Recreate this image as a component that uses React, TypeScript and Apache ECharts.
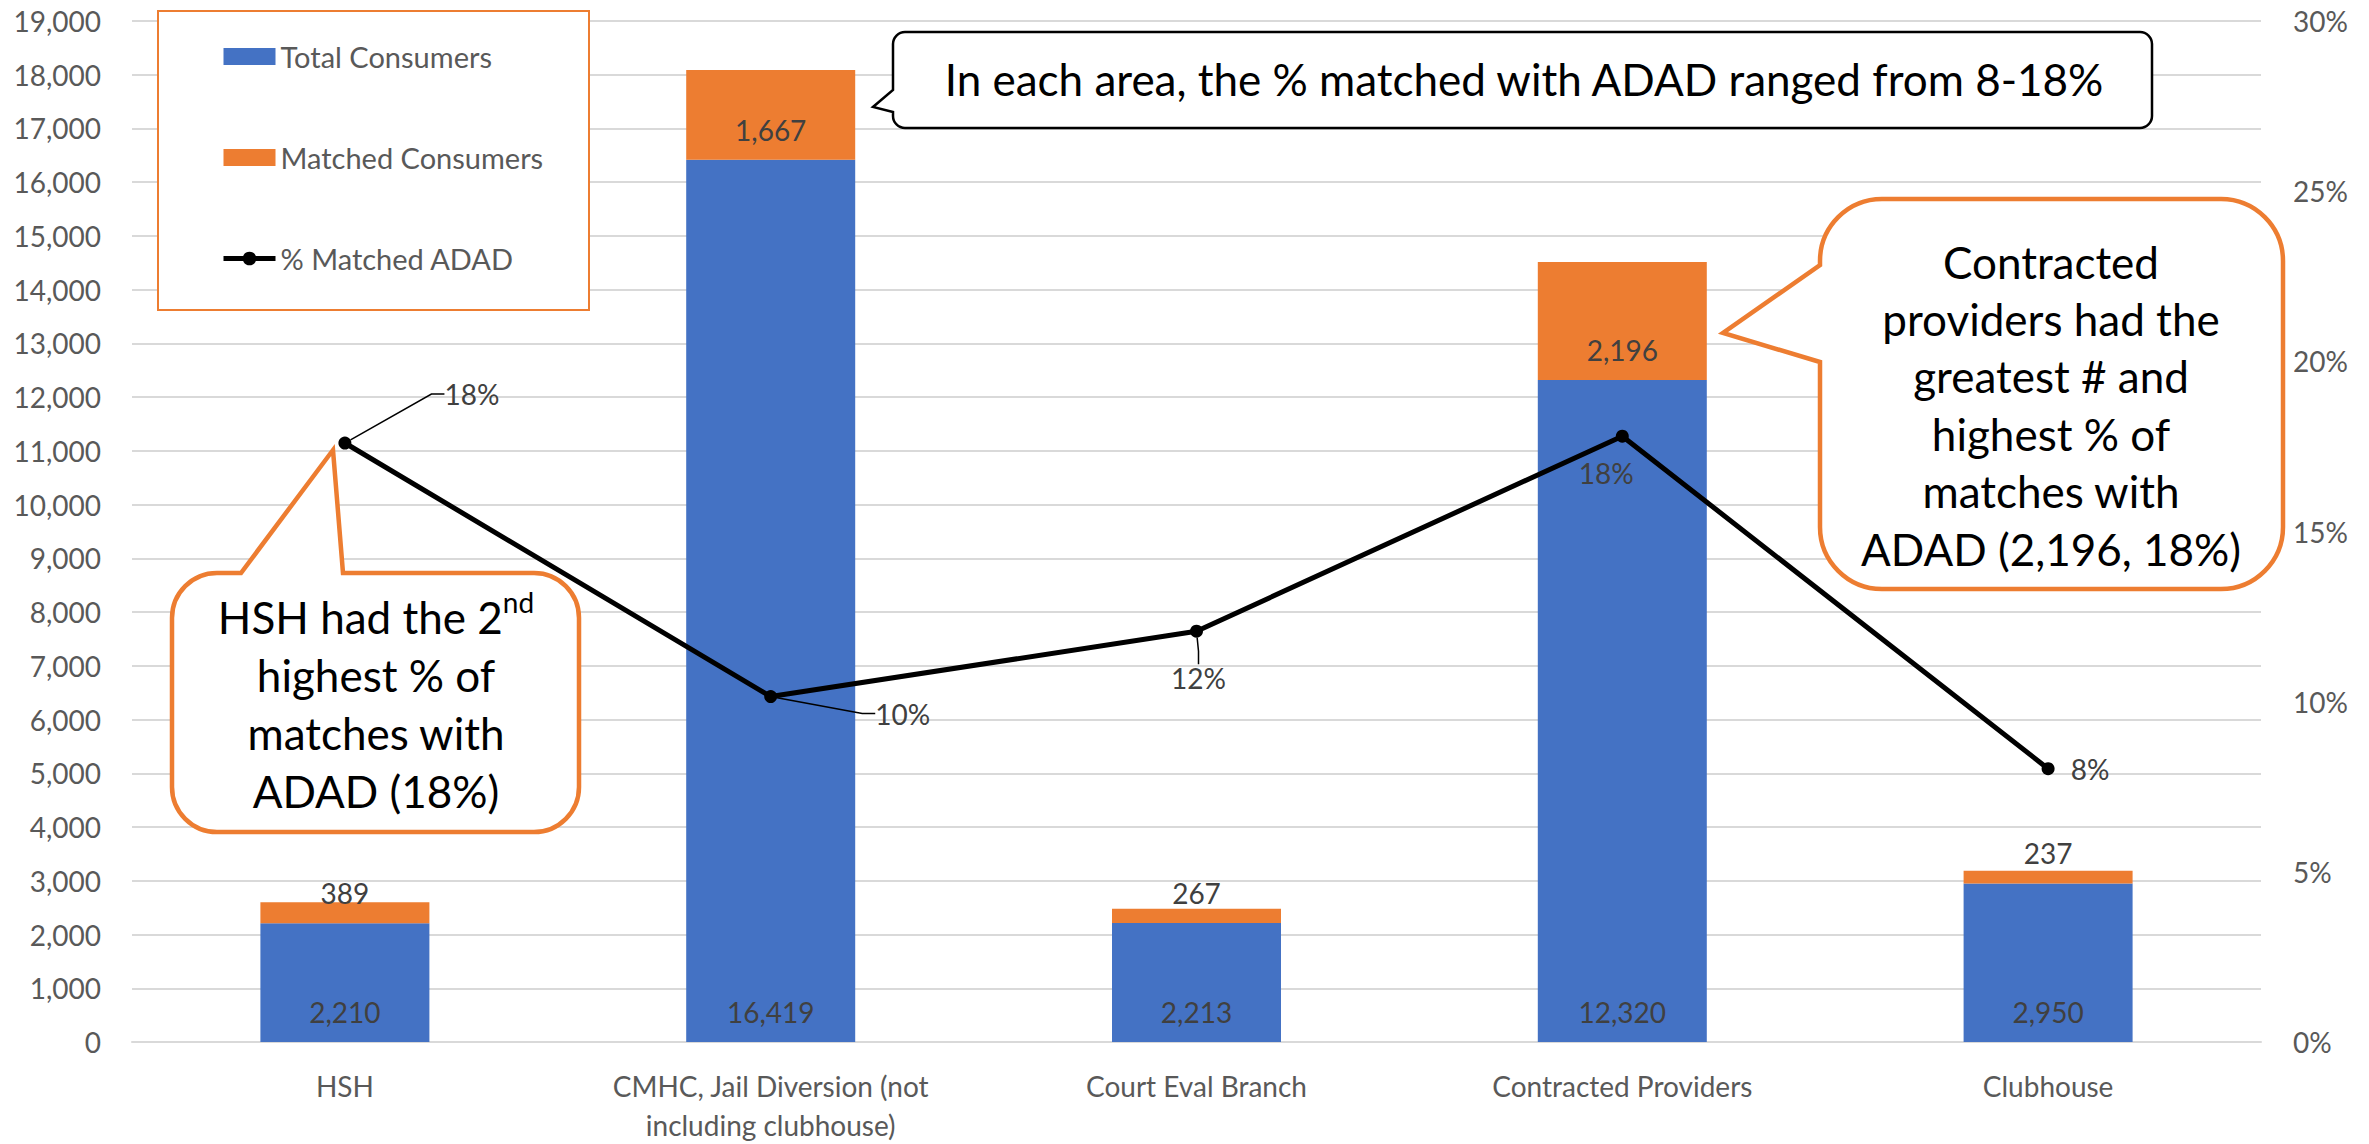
import React, { useEffect, useRef } from 'react';
import * as echarts from 'echarts';

// ---------- data ----------
const categories = [
  'HSH',
  'CMHC, Jail Diversion (not\nincluding clubhouse)',
  'Court Eval Branch',
  'Contracted Providers',
  'Clubhouse',
];
const totalConsumers = [2210, 16419, 2213, 12320, 2950];
const matchedConsumers = [389, 1667, 267, 2196, 237];
const pctMatchedADAD = [17.6, 10.15, 12.07, 17.8, 8.03];

const leftAxisMin = 0;
const leftAxisMax = 19000;
const leftAxisInterval = 1000;
const rightAxisMin = 0;
const rightAxisMax = 30;
const rightAxisInterval = 5;

const seriesNames = ['Total Consumers', 'Matched Consumers', '% Matched ADAD'];

const topNote = 'In each area, the % matched with ADAD ranged from 8-18%';
const hshNote = 'HSH had the 2{sup|nd}\nhighest % of\nmatches with\nADAD (18%)';
const contractedNote =
  'Contracted\nproviders had the\ngreatest # and\nhighest % of\nmatches with\nADAD (2,196, 18%)';

// ---------- styling ----------
const FONT = 'Lato, "Liberation Sans", sans-serif';
const BLUE = '#4472C4';
const ORANGE = '#ED7D31';
const GRID = '#d9d9d9';
const AXIS_TEXT = '#595959';
const LABEL_TEXT = '#404040';

type Ptr = { side: 'top' | 'left'; a: number; b: number; tx: number; ty: number };
function calloutPath(l: number, t: number, r: number, b: number, rad: number, p: Ptr) {
  const k = rad * 0.448;
  let d = `M ${l + rad} ${t}`;
  if (p.side === 'top') d += ` L ${p.a} ${t} L ${p.tx} ${p.ty} L ${p.b} ${t}`;
  d += ` L ${r - rad} ${t} C ${r - k} ${t} ${r} ${t + k} ${r} ${t + rad}`;
  d += ` L ${r} ${b - rad} C ${r} ${b - k} ${r - k} ${b} ${r - rad} ${b}`;
  d += ` L ${l + rad} ${b} C ${l + k} ${b} ${l} ${b - k} ${l} ${b - rad}`;
  if (p.side === 'left') d += ` L ${l} ${p.b} L ${p.tx} ${p.ty} L ${l} ${p.a}`;
  d += ` L ${l} ${t + rad} C ${l} ${t + k} ${l + k} ${t} ${l + rad} ${t} Z`;
  return d;
}

let registered = false;
function registerShapes() {
  if (registered) return;
  registered = true;
  echarts.graphic.registerShape(
    'calloutHSH',
    echarts.graphic.extendPath(
      calloutPath(172, 573, 579, 832, 45, { side: 'top', a: 241, b: 343, tx: 333, ty: 450 }),
      {}
    )
  );
  echarts.graphic.registerShape(
    'calloutContracted',
    echarts.graphic.extendPath(
      calloutPath(1820, 199, 2283, 589, 62, { side: 'left', a: 265, b: 362, tx: 1723, ty: 333 }),
      {}
    )
  );
  echarts.graphic.registerShape(
    'calloutTop',
    echarts.graphic.extendPath(
      calloutPath(893, 32, 2152, 128, 12, { side: 'left', a: 90, b: 112, tx: 873, ty: 107 }),
      {}
    )
  );
}

const fmt = (v: number) => Number(v).toLocaleString('en-US');

export default function App() {
  const ref = useRef<HTMLDivElement>(null);

  useEffect(() => {
    if (!ref.current) return;
    registerShapes();
    const chart = echarts.init(ref.current, undefined, { renderer: 'svg' });

    const pctLabelOffsets = [
      [127, -49],
      [132, 17],
      [2, 47],
      [-16, 37],
      [42, 0],
    ];
    const pctLabelLine = [true, true, true, false, false];

    const option: any = {
      animation: false,
      textStyle: { fontFamily: FONT },
      grid: { left: 132, right: 108, top: 21, bottom: 97, containLabel: false },
      legend: {
        orient: 'vertical',
        left: 216,
        top: 37,
        itemWidth: 52,
        itemHeight: 17,
        itemGap: 72,
        z: 6,
        lineStyle: { width: 5 },
        textStyle: { fontFamily: FONT, fontSize: 29, color: AXIS_TEXT, lineHeight: 29 },
        data: [
          { name: seriesNames[0], icon: 'rect' },
          { name: seriesNames[1], icon: 'rect' },
          { name: seriesNames[2] },
        ],
      },
      xAxis: {
        type: 'category',
        data: categories,
        axisTick: { show: false },
        axisLine: { lineStyle: { color: GRID, width: 2 } },
        axisLabel: {
          interval: 0,
          fontFamily: FONT,
          fontSize: 28,
          lineHeight: 39,
          color: AXIS_TEXT,
          margin: 24,
        },
      },
      yAxis: [
        {
          type: 'value',
          min: leftAxisMin,
          max: leftAxisMax,
          interval: leftAxisInterval,
          axisLine: { show: false },
          axisTick: { show: false },
          splitLine: { lineStyle: { color: GRID, width: 2 } },
          axisLabel: {
            fontFamily: FONT,
            fontSize: 28,
            color: AXIS_TEXT,
            margin: 31,
            formatter: (v: number) => fmt(v),
          },
        },
        {
          type: 'value',
          position: 'right',
          min: rightAxisMin,
          max: rightAxisMax,
          interval: rightAxisInterval,
          axisLine: { show: false },
          axisTick: { show: false },
          splitLine: { show: false },
          axisLabel: {
            fontFamily: FONT,
            fontSize: 28,
            color: AXIS_TEXT,
            margin: 32,
            formatter: (v: number) => `${v}%`,
          },
        },
      ],
      series: [
        {
          name: seriesNames[0],
          type: 'bar',
          stack: 'consumers',
          data: totalConsumers,
          barWidth: 169,
          itemStyle: { color: BLUE },
          label: {
            show: true,
            position: 'insideBottom',
            distance: 16,
            fontFamily: FONT,
            fontSize: 28,
            color: LABEL_TEXT,
            formatter: (p: any) => fmt(p.value),
          },
        },
        {
          name: seriesNames[1],
          type: 'bar',
          stack: 'consumers',
          data: matchedConsumers,
          barWidth: 169,
          itemStyle: { color: ORANGE },
          label: {
            show: true,
            position: 'insideBottom',
            distance: 16,
            fontFamily: FONT,
            fontSize: 28,
            color: LABEL_TEXT,
            formatter: (p: any) => fmt(p.value),
          },
        },
        {
          name: seriesNames[2],
          type: 'line',
          yAxisIndex: 1,
          z: 4,
          data: pctMatchedADAD.map((v, i) => ({
            value: v,
            labelLine: { show: pctLabelLine[i] },
          })),
          symbol: 'circle',
          symbolSize: 13,
          lineStyle: { color: '#000000', width: 5 },
          itemStyle: { color: '#000000' },
          label: {
            show: true,
            position: 'inside',
            fontFamily: FONT,
            fontSize: 28,
            color: LABEL_TEXT,
            formatter: (p: any) => `${Math.round(p.value)}%`,
          },
          labelLayout: (params: any) => ({
            dx: pctLabelOffsets[params.dataIndex][0],
            dy: pctLabelOffsets[params.dataIndex][1],
          }),
          labelLine: {
            show: true,
            length2: 13,
            lineStyle: { color: '#000000', width: 1.5 },
          },
        },
      ],
      graphic: [
        {
          type: 'rect',
          z: 3,
          shape: { x: 158, y: 11, width: 431, height: 299 },
          style: { fill: '#ffffff', stroke: ORANGE, lineWidth: 2 },
        },
        {
          type: 'calloutTop',
          x: 0,
          y: 0,
          z: 10,
          style: { fill: '#ffffff', stroke: '#000000', lineWidth: 2.5 },
        },
        {
          type: 'text',
          z: 11,
          x: 1524,
          y: 79,
          style: {
            text: topNote,
            fontFamily: FONT,
            fontSize: 44,
            fill: '#000000',
            align: 'center',
            verticalAlign: 'middle',
          },
        },
        {
          type: 'calloutHSH',
          x: 0,
          y: 0,
          z: 10,
          style: { fill: '#ffffff', stroke: ORANGE, lineWidth: 4.5 },
        },
        {
          type: 'text',
          z: 11,
          x: 376,
          y: 704,
          style: {
            text: hshNote,
            fontFamily: FONT,
            fontSize: 44,
            lineHeight: 58,
            fill: '#000000',
            align: 'center',
            verticalAlign: 'middle',
            rich: {
              sup: { fontFamily: FONT, fontSize: 28, lineHeight: 40, verticalAlign: 'top', fill: '#000000' },
            },
          },
        },
        {
          type: 'calloutContracted',
          x: 0,
          y: 0,
          z: 10,
          style: { fill: '#ffffff', stroke: ORANGE, lineWidth: 4.5 },
        },
        {
          type: 'text',
          z: 11,
          x: 2051,
          y: 405,
          style: {
            text: contractedNote,
            fontFamily: FONT,
            fontSize: 44,
            lineHeight: 57.4,
            fill: '#000000',
            align: 'center',
            verticalAlign: 'middle',
          },
        },
      ],
    };

    chart.setOption(option);
    return () => {
      chart.dispose();
    };
  }, []);

  return (
    <div
      ref={ref}
      style={{ position: 'fixed', left: 0, top: 0, width: 2369, height: 1144, background: '#ffffff' }}
    />
  );
}
